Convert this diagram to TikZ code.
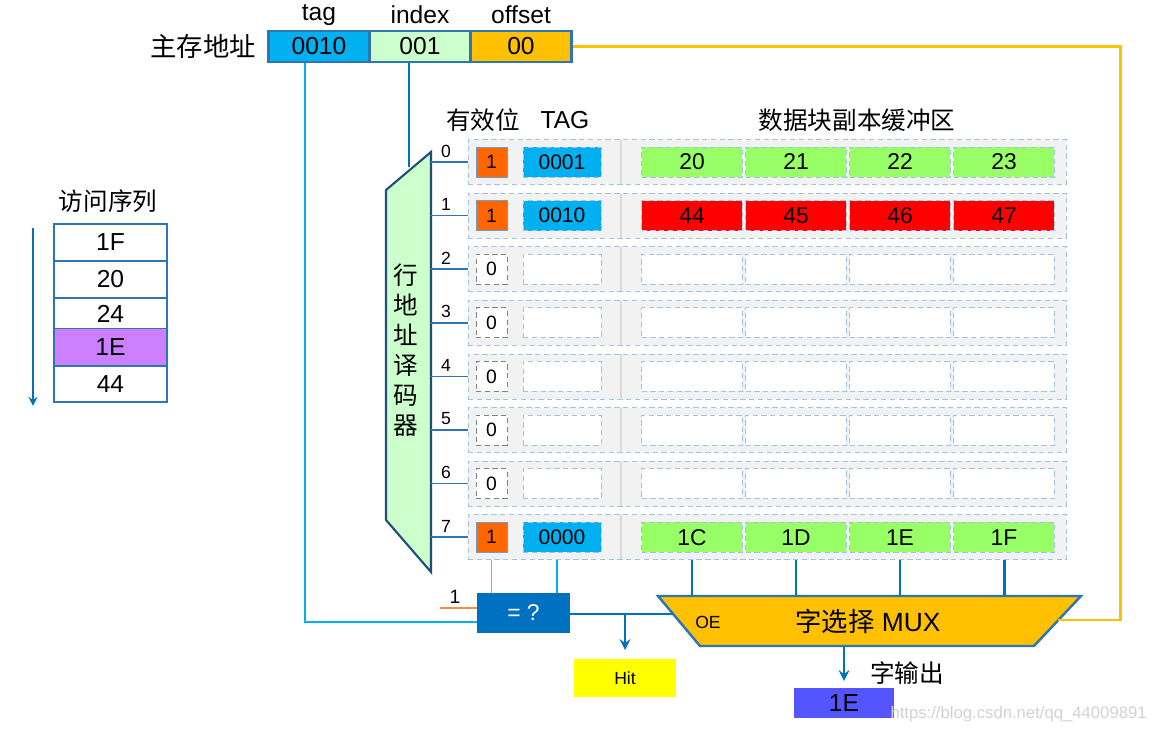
\documentclass[tikz,border=0pt]{standalone}
\usepackage{fontspec}
\setmainfont{Liberation Sans}
\newfontfamily\cjk{Noto Sans CJK SC}
\usetikzlibrary{arrows.meta}

\definecolor{ctag}{RGB}{0,176,240}
\definecolor{cidx}{RGB}{204,255,204}
\definecolor{coff}{RGB}{255,192,0}
\definecolor{dblue}{RGB}{0,112,192}
\definecolor{bdr}{RGB}{46,117,182}
\definecolor{navy}{RGB}{31,78,121}
\definecolor{vorange}{RGB}{255,102,0}
\definecolor{cgrn}{RGB}{153,255,102}
\definecolor{cred}{RGB}{255,0,0}
\definecolor{rowgray}{RGB}{242,242,242}
\definecolor{dashb}{RGB}{157,195,230}
\definecolor{purp}{RGB}{204,128,255}
\definecolor{outblue}{RGB}{85,85,255}
\definecolor{hity}{RGB}{255,255,0}
\definecolor{thinor}{RGB}{248,140,70}

\tikzset{
  addr/.style={draw=bdr, line width=1.3pt, minimum width=2.02cm, minimum height=0.62cm,
    inner sep=0pt, font=\fontsize{14}{14}\selectfont},
  hdr/.style={inner sep=1pt, font=\fontsize{14}{14}\selectfont},
  cjkhdr/.style={inner sep=1pt, font=\cjk\fontsize{14}{14}\selectfont},
  rowbox/.style={draw=dashb, densely dashed, fill=rowgray, minimum width=11.96cm,
    minimum height=0.9cm, inner sep=0pt},
  valid1/.style={draw=bdr!70, fill=vorange, minimum width=0.62cm, minimum height=0.6cm,
    inner sep=0pt, font=\fontsize{11}{11}\selectfont},
  valid0/.style={draw=gray, densely dashed, fill=white, minimum width=0.62cm,
    minimum height=0.6cm, inner sep=0pt, font=\fontsize{11}{11}\selectfont},
  tagcell/.style={draw=dashb, densely dashed, minimum width=1.56cm, minimum height=0.6cm,
    inner sep=0pt, font=\fontsize{12}{12}\selectfont},
  dcell/.style={draw=dashb, densely dashed, minimum width=2.02cm, minimum height=0.6cm,
    inner sep=0pt, font=\fontsize{13}{13}\selectfont},
  rownum/.style={inner sep=0pt, font=\fontsize{10}{10}\selectfont},
  decline/.style={draw=bdr, line width=0.8pt},
  busline/.style={draw=dblue, line width=1.7pt},
  tagline/.style={draw=ctag, line width=1.7pt},
  offline/.style={draw=coff, line width=1.7pt},
  thinline/.style={draw=thinor, line width=0.7pt},
  seqbox/.style={draw=bdr, line width=0.8pt, minimum width=2.26cm, inner sep=0pt,
    font=\fontsize{14}{14}\selectfont},
}

\begin{document}
\begin{tikzpicture}[x=0.02cm, y=-0.02cm, >=stealth]
\useasboundingbox (0,0) rectangle (1154,733);

% 主存地址
\node[inner sep=0pt, font=\cjk\fontsize{15}{15}\selectfont] (addrlbl) at (203,46) {主存地址};
\node[addr, fill=ctag] (tagbox) at (319,46.5) {0010};
\node[addr, fill=cidx] (idxbox) at (420,46.5) {001};
\node[addr, fill=coff] (offbox) at (521,46.5) {00};
\node[hdr] (taglbl) at (319,15) {tag};
\node[hdr] (idxlbl) at (420,15) {index};
\node[hdr] (offlbl) at (521,15) {offset};

% 表头
\node[cjkhdr] (validhdr) at (483,120) {有效位};
\node[hdr] (taghdr) at (565,120) {TAG};
\node[cjkhdr] (datahdr) at (857,120) {数据块副本缓冲区};

% 行地址译码器
\coordinate (dtr) at (431,152);
\coordinate (dtl) at (386,190);
\coordinate (dbl) at (386,520);
\coordinate (dbr) at (431,572);
\draw[fill=cidx, draw=navy, line width=1.2pt] (dtr) -- (dtl) -- (dbl) -- (dbr) -- cycle;
\node[align=center, inner sep=0pt, font=\cjk\fontsize{14}{17}\selectfont] (dectxt) at (406,350)
  {行\\地\\址\\译\\码\\器};

% Cache 行
\foreach \rr/\bit/\tg/\tc/\dc/\xa/\xb/\xc/\xd in {
    0/1/0001/ctag/cgrn/20/21/22/23,
    1/1/0010/ctag/cred/44/45/46/47,
    2/0//white/white////,
    3/0//white/white////,
    4/0//white/white////,
    5/0//white/white////,
    6/0//white/white////,
    7/1/0000/ctag/cgrn/1C/1D/1E/1F}{
  \pgfmathsetmacro\yy{162+53.6*\rr}
  \node[rowbox] (row\rr) at (767,\yy) {};
  \draw[gray!30, line width=1.2pt] (621,{\yy-22}) -- (621,{\yy+22});
  \node[valid\bit] (v\rr) at (491.5,\yy) {\bit};
  \node[tagcell, fill=\tc] (t\rr) at (562,\yy) {\tg};
  \node[dcell, fill=\dc] (d\rr-1) at (692,\yy) {\xa};
  \node[dcell, fill=\dc] (d\rr-2) at (796,\yy) {\xb};
  \node[dcell, fill=\dc] (d\rr-3) at (900,\yy) {\xc};
  \node[dcell, fill=\dc] (d\rr-4) at (1004,\yy) {\xd};
  \coordinate (dec\rr) at (431,\yy);
  \draw[decline] (dec\rr) -- (row\rr.west);
  \node[rownum] (n\rr) at (446,{\yy-11}) {\rr};
}

% 地址连线
\coordinate (idxin) at (409,167);
\draw[busline] (idxbox.south -| idxin) -- (idxin);
\node[draw=none, fill=dblue, text=white, minimum width=1.86cm, minimum height=0.8cm,
  inner sep=0pt, font=\fontsize{13}{13}\selectfont] (eq) at (523.5,613) {= ?};
\coordinate (tagturn) at (305,622);
\draw[tagline] (tagbox.south -| tagturn) -- (tagturn) -- (tagturn -| eq.west);
\coordinate (t7tap) at (557,0);
\draw[tagline] (t7tap |- row7.south) -- (t7tap |- eq.north);
\draw[thinline] (v7.south |- row7.south) -- (v7.south |- eq.north);
\coordinate (onein) at (440,608);
\draw[thinline] (onein) -- (onein -| eq.west);
\node[rownum, font=\fontsize{11}{11}\selectfont] (onelbl) at (455,597) {1};

% 字选择 MUX
\coordinate (mtl) at (658,596);
\coordinate (mtr) at (1081,596);
\coordinate (mbr) at (1034,646);
\coordinate (mbl) at (700,646);
\draw[fill=coff, draw=bdr, line width=1.4pt] (mtl) -- (mtr) -- (mbr) -- (mbl) -- cycle;
\node[inner sep=0pt, font=\fontsize{15}{15}\selectfont] (muxtxt) at (868,621) {{\cjk 字选择} MUX};
\node[inner sep=0pt, font=\fontsize{10}{10}\selectfont] (oe) at (708,622) {OE};
\foreach \k in {1,...,4}
  \draw[busline] (d7-\k.south |- row7.south) -- (d7-\k.south |- mtl);
\coordinate (muxin) at (673,614);
\draw[busline] (eq.east |- muxin) -- (muxin);
\coordinate (muxr) at (1058,620);
\coordinate (orc) at (1120,46.5);
\draw[offline] (offbox.east) -- (orc) -- (orc |- muxr) -- (muxr);

% Hit 与字输出
\node[fill=hity, minimum width=2.04cm, minimum height=0.76cm, inner sep=0pt,
  font=\fontsize{10}{10}\selectfont] (hit) at (625,678) {Hit};
\draw[busline, ->] (hit.north |- muxin) -- ++(0,36);
\node[fill=outblue, minimum width=2cm, minimum height=0.6cm, inner sep=0pt,
  font=\fontsize{14}{14}\selectfont] (outbox) at (844,703) {1E};
\draw[busline, ->] (outbox.north |- mbl) -- ++(0,35);
\node[cjkhdr] (outlbl) at (907,673) {字输出};

% 访问序列
\node[cjkhdr] (seqlbl) at (108,201) {访问序列};
\node[seqbox, minimum height=0.74cm] (s1) at (110.5,242.5) {1F};
\node[seqbox, minimum height=0.74cm] (s2) at (110.5,279.5) {20};
\node[seqbox, minimum height=0.62cm] (s3) at (110.5,313.5) {24};
\node[seqbox, minimum height=0.74cm, fill=purp] (s4) at (110.5,347) {1E};
\node[seqbox, minimum height=0.72cm] (s5) at (110.5,384) {44};
\coordinate (seqtop) at (33,228);
\coordinate (seqbot) at (33,406);
\draw[busline, line width=1.3pt, ->] (seqtop) -- (seqbot);

% 水印
\node[text=gray!35, inner sep=0pt, anchor=east, font=\fontsize{9.5}{10}\selectfont] (wm)
  at (1147,714) {https://blog.csdn.net/qq\_44009891};
\end{tikzpicture}
\end{document}
